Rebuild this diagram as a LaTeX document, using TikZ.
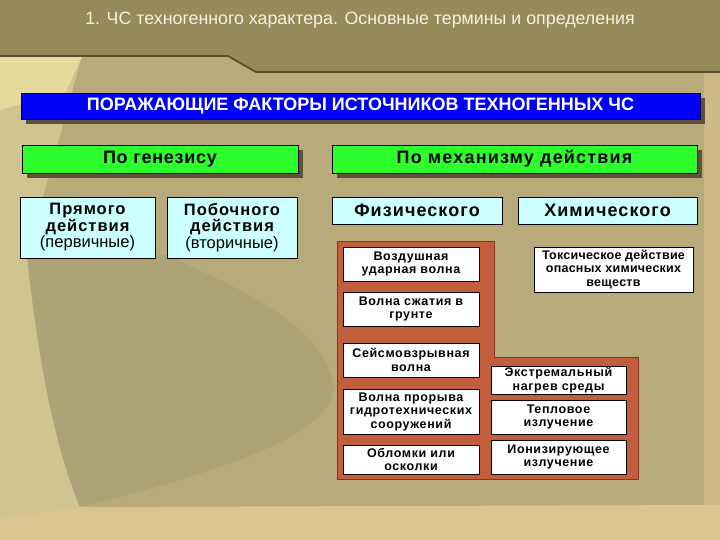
\documentclass[tikz,border=0pt]{standalone}
\usepackage{fontspec}
\setmainfont{Liberation Sans}
\usetikzlibrary{shadows}
\definecolor{bgbase}{RGB}{184,170,122}
\definecolor{bglight}{RGB}{208,196,145}
\definecolor{bgyellow}{RGB}{228,218,156}
\definecolor{bgdark}{RGB}{173,163,119}
\definecolor{bgbottom}{RGB}{218,197,142}
\definecolor{bandcol}{RGB}{150,137,90}
\definecolor{bandline}{RGB}{88,78,48}
\definecolor{titlecol}{RGB}{245,242,228}
\definecolor{barblue}{RGB}{0,0,250}
\definecolor{barborder}{RGB}{0,0,90}
\definecolor{greencol}{RGB}{45,255,45}
\definecolor{cyancol}{RGB}{204,255,255}
\definecolor{panelcol}{RGB}{194,94,62}
\definecolor{panelline}{RGB}{130,55,30}
\definecolor{shadowcol}{RGB}{92,82,58}
\newcommand{\lsp}[1]{\addfontfeatures{LetterSpace=#1}}
\begin{document}
\begin{tikzpicture}[x=1pt,y=-1pt,
  shadowed/.style={drop shadow={shadow xshift=5pt,shadow yshift=-5pt,fill=shadowcol,opacity=1}},
  bluebar/.style={shadowed,fill=barblue,draw=barborder,line width=0.8pt,inner sep=0pt,text=white,
    font=\fontsize{18}{20}\selectfont\bfseries},
  greenbox/.style={shadowed,fill=greencol,draw=black,line width=0.6pt,inner sep=0pt,
    font=\fontsize{18}{20}\selectfont\bfseries},
  cyanbox/.style={fill=cyancol,draw=black,line width=0.6pt,inner sep=0pt,align=center,
    font=\fontsize{16.5}{16.5}\selectfont},
  kindbox/.style={fill=cyancol,draw=black,line width=0.6pt,inner sep=0pt,
    font=\fontsize{18}{20}\selectfont\bfseries\lsp{6}},
  whitebox/.style={fill=white,draw=black,line width=0.6pt,inner sep=0pt,align=center,
    font=\fontsize{12.5}{13.5}\selectfont\bfseries\lsp{5}}]
\useasboundingbox (0,0) rectangle (720,540);
% background
\fill[bgbase] (0,0) rectangle (720,540);
\fill[bglight] (0,56) -- (82,56) -- (27,255) .. controls (40,380) and (60,460) .. (80,507) -- (0,517) -- cycle;
\fill[bgyellow] (0,56) -- (82,56) -- (66,92) -- (0,110) -- cycle;
\fill[bgdark] (27,255) .. controls (40,380) and (60,460) .. (80,507)
  .. controls (230,470) and (345,430) .. (332,380) .. controls (318,320) and (230,285) .. (167,255)
  -- cycle;
\fill[bgbottom] (0,517) -- (80,507) -- (720,505) -- (720,540) -- (0,540) -- cycle;
\fill[bgbottom!60!bgbase] (704,72) rectangle (720,505);
\fill[bandcol] (0,0) -- (720,0) -- (720,72) -- (256,72) -- (228,56) -- (0,56) -- cycle;
\draw[bandline,line width=1.8pt] (0,56) -- (228,56) -- (256,72) -- (720,72);
% title
\node[text=titlecol,font=\fontsize{17.8}{20}\selectfont] (title) at (360,20)
  {1. ЧС техногенного характера. Основные термины и определения};
% header bar
\node[bluebar,minimum width=679,minimum height=26] (head) at (360.5,106)
  {ПОРАЖАЮЩИЕ ФАКТОРЫ ИСТОЧНИКОВ ТЕХНОГЕННЫХ ЧС};
% green
\node[greenbox,minimum width=276,minimum height=28,font=\fontsize{18}{20}\selectfont\bfseries\lsp{4}] (gen) at (160,159) {По генезису};
\node[greenbox,minimum width=365,minimum height=28,font=\fontsize{18}{20}\selectfont\bfseries\lsp{6.5}] (mech) at (514.5,159) {По механизму действия};
% cyan
\node[cyanbox,minimum width=135,minimum height=61] (prim) at (87.5,227.5)
  {{\bfseries\lsp{6}Прямого}\\{\bfseries\lsp{6}действия}\\(первичные)};
\node[cyanbox,minimum width=130,minimum height=61] (sec) at (232,227.5)
  {{\bfseries\lsp{6}Побочного}\\{\bfseries\lsp{6}действия}\\(вторичные)};
\node[kindbox,minimum width=170,minimum height=27] (phys) at (417,210.5) {Физического};
\node[kindbox,minimum width=179,minimum height=27] (chem) at (607.5,210.5) {Химического};
% panel
\filldraw[fill=panelcol,draw=panelline,line width=0.6pt]
  (337,241) -- (494,241) -- (494,357) -- (638,357) -- (638,479) -- (337,479) -- cycle;
% physical factors
\node[whitebox,minimum width=136,minimum height=34] (air) at (411,264) {Воздушная\\ударная волна};
\node[whitebox,minimum width=136,minimum height=34] (ground) at (411,309) {Волна сжатия в\\грунте};
\node[whitebox,minimum width=136,minimum height=34] (seism) at (411,360) {Сейсмовзрывная\\волна};
\node[whitebox,minimum width=136,minimum height=45] (flood) at (411,411.5) {Волна прорыва\\гидротехнических\\сооружений};
\node[whitebox,minimum width=136,minimum height=29] (debris) at (411,459.5) {Обломки или\\осколки};
\node[whitebox,minimum width=135,minimum height=28] (heat) at (558.5,380) {Экстремальный\\нагрев среды};
\node[whitebox,minimum width=135,minimum height=34] (therm) at (558.5,417) {Тепловое\\излучение};
\node[whitebox,minimum width=135,minimum height=34] (ion) at (558.5,457) {Ионизирующее\\излучение};
% chemical
\node[whitebox,minimum width=159,minimum height=45,font=\fontsize{12.5}{13.5}\selectfont\bfseries\lsp{2}] (tox) at (613.5,269.5)
  {Токсическое действие\\опасных химических\\веществ};
\end{tikzpicture}
\end{document}
